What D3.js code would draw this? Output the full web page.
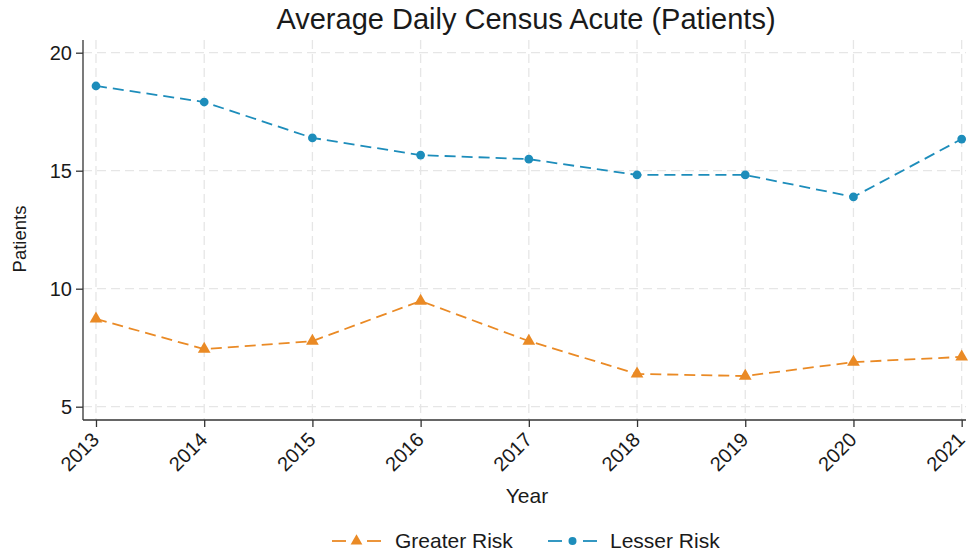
<!DOCTYPE html>
<html><head><meta charset="utf-8">
<script src="https://cdn.jsdelivr.net/npm/d3@7"></script>
<style>body{margin:0;background:#fff}text{font-family:"Liberation Sans",Arial,sans-serif;fill:#1a1a1a}</style>
</head><body>
<svg id="c" width="969" height="554"></svg>
<script>
const years = [2013,2014,2015,2016,2017,2018,2019,2020,2021];
const greaterRisk = [8.72,7.44,7.78,9.48,7.78,6.39,6.30,6.89,7.11];
const lesserRisk = [18.59,17.91,16.39,15.66,15.49,14.82,14.82,13.89,16.34];
const yTicks = [5,10,15,20];
const seriesNames = ["Greater Risk","Lesser Risk"];
const colors = ["#ea8a25","#1d8dbb"];

const svg = d3.select("#c");
const L=83, R=966, T=40, B=420;
const x = d3.scaleLinear().domain([2013-0.12, 2021+0.04]).range([L,R]);
const y = d3.scaleLinear().domain([5,20]).range([406.7,52.7]);

// grid
svg.append("g").selectAll("line").data(yTicks).join("line")
  .attr("x1",L).attr("x2",R).attr("y1",d=>y(d)).attr("y2",d=>y(d))
  .attr("stroke","#e6e6e6").attr("stroke-width",1.3).attr("stroke-dasharray","9,5");
svg.append("g").selectAll("line").data(years).join("line")
  .attr("x1",d=>x(d)).attr("x2",d=>x(d)).attr("y1",T).attr("y2",B)
  .attr("stroke","#e6e6e6").attr("stroke-width",1.3).attr("stroke-dasharray","9,5");

// axes
const ya = svg.append("g").attr("transform",`translate(${L},0)`)
  .call(d3.axisLeft(y).tickValues(yTicks).tickSize(7).tickPadding(4));
ya.select(".domain").attr("d",`M0,${T}V${B}`).attr("stroke","#333").attr("stroke-width",1.3);
ya.selectAll(".tick line").attr("stroke","#333").attr("stroke-width",1.3);
ya.selectAll(".tick text").attr("font-size",20).attr("dy","0.35em");

const xa = svg.append("g").attr("transform",`translate(0,${B})`)
  .call(d3.axisBottom(x).tickValues(years).tickFormat(d3.format("d")).tickSize(7));
xa.select(".domain").attr("d",`M${L},0H${R}`).attr("stroke","#333").attr("stroke-width",1.3);
xa.selectAll(".tick line").attr("stroke","#333").attr("stroke-width",1.3);
xa.selectAll(".tick text").attr("font-size",20).attr("text-anchor","end")
  .attr("transform","translate(-1,16) rotate(-45)").attr("dy","0.35em").attr("y",0);

// title & labels
svg.append("text").attr("x",526).attr("y",29).attr("text-anchor","middle").attr("font-size",29).text("Average Daily Census Acute (Patients)");
svg.append("text").attr("x",527).attr("y",503).attr("text-anchor","middle").attr("font-size",21).text("Year");
svg.append("text").attr("transform","translate(26,239) rotate(-90)").attr("text-anchor","middle").attr("font-size",18.5).text("Patients");

// series
const line = d3.line().x((d,i)=>x(years[i])).y(d=>y(d));
[greaterRisk,lesserRisk].forEach((s,k)=>{
  svg.append("path").attr("d",line(s)).attr("fill","none").attr("stroke",colors[k])
    .attr("stroke-width",1.8).attr("stroke-dasharray","11,6");
  const sym = d3.symbol().type(k===0?d3.symbolTriangle:d3.symbolCircle).size(k===0?70:60);
  svg.append("g").selectAll("path").data(s).join("path")
    .attr("transform",(d,i)=>`translate(${x(years[i])},${y(d)})`)
    .attr("d",sym).attr("fill",colors[k]);
});

// legend
const lg = [{x0:332,tx:395},{x0:548,tx:610}];
lg.forEach((p,k)=>{
  const g = svg.append("g");
  g.append("line").attr("x1",p.x0).attr("x2",p.x0+14).attr("y1",541).attr("y2",541).attr("stroke",colors[k]).attr("stroke-width",1.8);
  g.append("line").attr("x1",p.x0+35).attr("x2",p.x0+49).attr("y1",541).attr("y2",541).attr("stroke",colors[k]).attr("stroke-width",1.8);
  g.append("path").attr("transform",`translate(${p.x0+24.5},541)`)
    .attr("d",d3.symbol().type(k===0?d3.symbolTriangle:d3.symbolCircle).size(k===0?60:50)).attr("fill",colors[k]);
  g.append("text").attr("x",p.tx).attr("y",548).attr("font-size",21).text(seriesNames[k]);
});
</script>
</body></html>
